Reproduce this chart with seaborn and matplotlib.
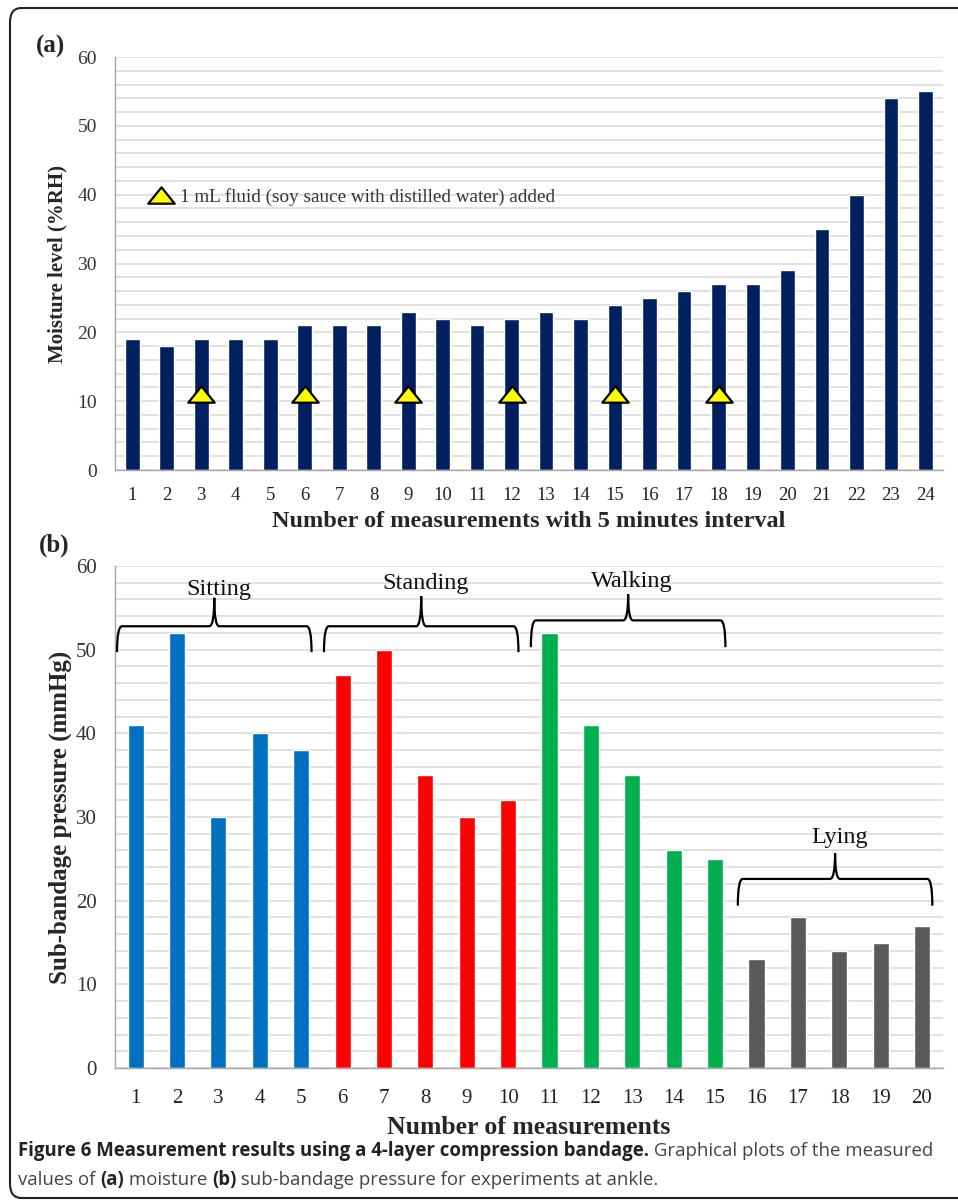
import numpy as np
import seaborn as sns
import matplotlib.pyplot as plt
import pandas as pd
from matplotlib.ticker import MultipleLocator
from matplotlib.path import Path
from matplotlib.patches import PathPatch, FancyBboxPatch
from matplotlib.lines import Line2D

# (a) moisture level, 24 measurements at 5 minute interval
moisture_x = ['1', '2', '3', '4', '5', '6', '7', '8', '9', '10', '11', '12',
              '13', '14', '15', '16', '17', '18', '19', '20', '21', '22', '23', '24']
moisture = [19, 18, 19, 19, 19, 21, 21, 21, 23, 22, 21, 22,
            23, 22, 24, 25, 26, 27, 27, 29, 35, 40, 54, 55]
fluid_added_x = ['3', '6', '9', '12', '15', '18']
fluid_added_y = [11.1, 11.1, 11.1, 11.1, 11.1, 11.1]
fluid_label = '1 mL fluid (soy sauce with distilled water) added'

# (b) sub-bandage pressure, 20 measurements
pressure_x = ['1', '2', '3', '4', '5', '6', '7', '8', '9', '10',
              '11', '12', '13', '14', '15', '16', '17', '18', '19', '20']
pressure = [41, 52, 30, 40, 38, 47, 50, 35, 30, 32,
            52, 41, 35, 26, 25, 13, 18, 14, 15, 17]
posture = ['Sitting'] * 5 + ['Standing'] * 5 + ['Walking'] * 5 + ['Lying'] * 5
posture_names = ['Sitting', 'Standing', 'Walking', 'Lying']
posture_colors = {'Sitting': '#0070C0', 'Standing': '#FF0000',
                  'Walking': '#00B050', 'Lying': '#595959'}
# brace levels (end, line, tip, label) per posture group
brace_levels = [(49.7, 52.8, 56.2, 57.2), (49.7, 52.8, 56.4, 57.9),
                (50.3, 53.5, 56.6, 58.2), (19.4, 22.6, 25.7, 27.5)]

sns.set_style('white')
plt.rcParams['font.family'] = ['Liberation Serif', 'DejaVu Serif']

GRID = '#D9D9D9'
AXC = '#A6A6A6'
TRI = Path([(-1, -0.62), (1, -0.62), (0, 0.62), (-1, -0.62)], closed=True)


def style_axis(ax, n, ysize, xsize, xpad):
    ax.set_xlim(-0.5, n - 0.5)
    ax.set_ylim(0, 60)
    ax.yaxis.set_major_locator(MultipleLocator(10))
    ax.yaxis.set_minor_locator(MultipleLocator(2))
    ax.grid(axis='y', which='both', color=GRID, lw=1.1, zorder=0)
    ax.set_axisbelow(True)
    ax.set_xticks(np.arange(n) - 0.5, minor=True)
    ax.tick_params(axis='x', which='major', length=0, pad=xpad, labelsize=xsize, colors='#222222')
    ax.tick_params(axis='x', which='minor', length=5, color=AXC, width=1)
    ax.tick_params(axis='y', which='major', length=5, pad=8, labelsize=ysize, colors='#333333')
    ax.tick_params(axis='y', which='major', color=AXC)
    ax.tick_params(axis='y', which='minor', length=0)
    for s in ['top', 'right']:
        ax.spines[s].set_visible(False)
    for s in ['left', 'bottom']:
        ax.spines[s].set_color(AXC)
        ax.spines[s].set_linewidth(1)


def brace(ax, x0, x1, y_end, y_line, y_tip):
    xm = (x0 + x1) / 2
    rx = 0.12
    verts = [(x0, y_end), (x0, y_line), (x0 + rx, y_line),
             (xm - rx, y_line), (xm, y_line), (xm, y_tip),
             (xm, y_line), (xm + rx, y_line),
             (x1 - rx, y_line), (x1, y_line), (x1, y_end)]
    codes = [Path.MOVETO, Path.CURVE3, Path.CURVE3,
             Path.LINETO, Path.CURVE3, Path.CURVE3,
             Path.CURVE3, Path.CURVE3,
             Path.LINETO, Path.CURVE3, Path.CURVE3]
    ax.add_patch(PathPatch(Path(verts, codes), fill=False, lw=1.6,
                           color='black', clip_on=False, zorder=4))


fig = plt.figure(figsize=(9.58, 12.03), dpi=100)

# ---------------- (a) moisture ----------------
ax1 = fig.add_axes([0.120, 0.6093, 0.864, 0.3433])
sns.barplot(x=moisture_x, y=moisture, order=moisture_x, color='#002060',
            saturation=1, width=0.43, ax=ax1, zorder=2)
sns.stripplot(x=fluid_added_x, y=fluid_added_y, order=moisture_x, jitter=False,
              marker=TRI, size=19, color='#FFFF00', edgecolor='black',
              linewidth=1.6, ax=ax1, zorder=3)
style_axis(ax1, len(moisture_x), 14, 13.5, 12)
ax1.set_ylabel('Moisture level (%RH)', fontsize=15, fontweight='bold', labelpad=7)
ax1.set_xlabel('Number of measurements with 5 minutes interval',
               fontsize=17.5, fontweight='bold', labelpad=5)
key = Line2D([], [], marker=TRI, ls='none', markersize=19, markerfacecolor='#FFFF00',
             markeredgecolor='black', markeredgewidth=1.6, label=fluid_label)
ax1.legend(handles=[key], loc='center left', bbox_to_anchor=(0.04, 0.661),
           frameon=False, fontsize=13.8, handlelength=1.3, handletextpad=0.35,
           borderpad=0, borderaxespad=0, labelcolor='#333333')
fig.text(36 / 958, 1 - 46 / 1203, '(a)', fontsize=18, fontweight='bold', va='center')

# ---------------- (b) pressure ----------------
ax2 = fig.add_axes([0.120, 0.1122, 0.864, 0.4173])
df = pd.DataFrame({'measurement': pressure_x, 'pressure': pressure, 'posture': posture})
sns.barplot(data=df, x='measurement', y='pressure', hue='posture', order=pressure_x,
            hue_order=posture_names, palette=posture_colors, dodge=False,
            saturation=1, width=0.39, legend=False, ax=ax2, zorder=2)
style_axis(ax2, len(pressure_x), 15, 15, 15)
ax2.set_ylabel('Sub-bandage pressure (mmHg)', fontsize=18, fontweight='bold', labelpad=3)
ax2.set_xlabel('Number of measurements', fontsize=18.5, fontweight='bold', labelpad=6)
for i, name in enumerate(posture_names):
    y_end, y_line, y_tip, y_text = brace_levels[i]
    x0, x1 = i * 5 - 0.45, i * 5 + 4.25
    brace(ax2, x0, x1, y_end, y_line, y_tip)
    ax2.text((x0 + x1) / 2 + 0.1, y_text, name, ha='center', va='center',
             fontsize=17.5, color='#111111', zorder=5)
fig.text(39 / 958, 1 - 545 / 1203, '(b)', fontsize=18, fontweight='bold', va='center')

# ---------------- frame and caption ----------------
fig.patches.append(FancyBboxPatch((10 / 958, 5 / 1203), 980 / 958, 1190 / 1203,
                                  boxstyle='round,pad=0,rounding_size=0.012',
                                  transform=fig.transFigure, fill=False,
                                  ec='#222222', lw=1.5, clip_on=False))

cap_font = ['Open Sans', 'DejaVu Sans']
cap_lines = [
    [('Figure 6 Measurement results using a 4-layer compression bandage.', 'bold'),
     (' Graphical plots of the measured', 'normal')],
    [('values of ', 'normal'), ('(a)', 'bold'), (' moisture ', 'normal'),
     ('(b)', 'bold'), (' sub-bandage pressure for experiments at ankle.', 'normal')],
]
renderer = fig.canvas.get_renderer()
for row, pieces in enumerate(cap_lines):
    x = 18
    y = 1203 - (1151 + row * 29)
    for txt, wt in pieces:
        col = '#222222' if wt == 'bold' else '#444444'
        t = fig.text(x / 958, y / 1203, txt, fontsize=13.4, fontweight=wt,
                     family=cap_font, color=col, va='center', ha='left')
        bb = t.get_window_extent(renderer)
        x += bb.width

fig.savefig('out.png', dpi=100)
